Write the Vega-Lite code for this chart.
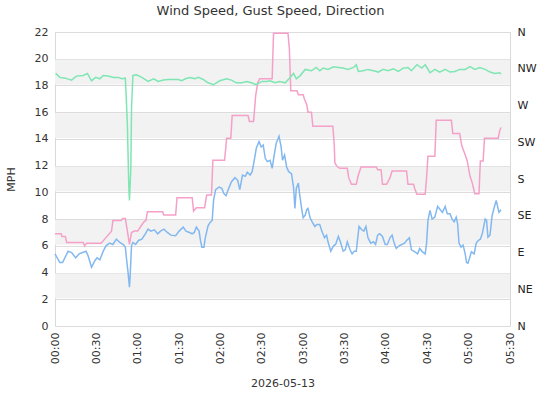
{
"$schema": "https://vega.github.io/schema/vega-lite/v6.json",
"width": 455,
"height": 294,
"padding": {"left": 5, "top": 5, "right": 3, "bottom": 5},
"background": "white",
"title": {"text": "Wind Speed, Gust Speed, Direction", "font": "DejaVu Sans", "fontSize": 13, "fontWeight": "normal", "color": "#333333", "offset": 8, "frame": "bounds"},
"config": {
  "view": {"stroke": "#d9d9d9"},
  "font": "DejaVu Sans",
  "axis": {"labelFont": "DejaVu Sans", "titleFont": "DejaVu Sans", "labelFontSize": 11, "titleFontSize": 11, "titleFontWeight": "normal", "labelColor": "#333333", "titleColor": "#333333", "ticks": false, "domain": false, "labelOverlap": false},
  "axisQuantitative": {"labelOverlap": false},
  "axisY": {"labelOverlap": false},
  "axisLeft": {"labelPadding": 7, "titlePadding": 18, "grid": true, "gridColor": "#dcdcdc", "labelOverlap": false}
},
"datasets": {
  "bands": [{"lo": 2, "hi": 4}, {"lo": 6, "hi": 8}, {"lo": 10, "hi": 12}, {"lo": 14, "hi": 16}, {"lo": 18, "hi": 20}],
  "wind": [
{"time":"2026-05-13T00:00:00","mph":5.4},{"time":"2026-05-13T00:03:30","mph":4.75},{"time":"2026-05-13T00:05:30","mph":4.75},{"time":"2026-05-13T00:09:30","mph":5.6},{"time":"2026-05-13T00:12:00","mph":5.5},{"time":"2026-05-13T00:15:00","mph":5.1},{"time":"2026-05-13T00:17:30","mph":5.4},{"time":"2026-05-13T00:20:00","mph":5.5},{"time":"2026-05-13T00:22:30","mph":5.6},{"time":"2026-05-13T00:24:00","mph":5.25},{"time":"2026-05-13T00:26:30","mph":4.4},{"time":"2026-05-13T00:29:00","mph":4.9},{"time":"2026-05-13T00:30:30","mph":5.1},{"time":"2026-05-13T00:32:30","mph":4.95},{"time":"2026-05-13T00:35:00","mph":5.6},{"time":"2026-05-13T00:37:00","mph":6.0},{"time":"2026-05-13T00:39:30","mph":6.2},{"time":"2026-05-13T00:42:00","mph":6.1},{"time":"2026-05-13T00:44:30","mph":6.5},{"time":"2026-05-13T00:47:00","mph":6.25},{"time":"2026-05-13T00:49:30","mph":6.1},{"time":"2026-05-13T00:51:00","mph":5.9},{"time":"2026-05-13T00:52:00","mph":4.9},{"time":"2026-05-13T00:53:00","mph":4.0},{"time":"2026-05-13T00:54:00","mph":2.9},{"time":"2026-05-13T00:54:30","mph":3.75},{"time":"2026-05-13T00:55:30","mph":6.0},{"time":"2026-05-13T00:56:30","mph":6.25},{"time":"2026-05-13T00:58:30","mph":6.1},{"time":"2026-05-13T01:00:30","mph":6.4},{"time":"2026-05-13T01:03:00","mph":6.5},{"time":"2026-05-13T01:05:30","mph":6.9},{"time":"2026-05-13T01:07:30","mph":7.25},{"time":"2026-05-13T01:09:30","mph":7.1},{"time":"2026-05-13T01:12:00","mph":7.2},{"time":"2026-05-13T01:14:30","mph":6.9},{"time":"2026-05-13T01:16:30","mph":7.1},{"time":"2026-05-13T01:19:00","mph":7.25},{"time":"2026-05-13T01:21:30","mph":7.0},{"time":"2026-05-13T01:24:00","mph":6.8},{"time":"2026-05-13T01:27:30","mph":6.75},{"time":"2026-05-13T01:30:00","mph":7.1},{"time":"2026-05-13T01:33:00","mph":7.4},{"time":"2026-05-13T01:35:00","mph":7.1},{"time":"2026-05-13T01:37:30","mph":7.0},{"time":"2026-05-13T01:39:30","mph":6.9},{"time":"2026-05-13T01:41:00","mph":7.0},{"time":"2026-05-13T01:42:30","mph":7.4},{"time":"2026-05-13T01:44:30","mph":7.1},{"time":"2026-05-13T01:45:30","mph":6.4},{"time":"2026-05-13T01:46:30","mph":5.9},{"time":"2026-05-13T01:48:00","mph":5.9},{"time":"2026-05-13T01:49:00","mph":6.6},{"time":"2026-05-13T01:51:00","mph":7.5},{"time":"2026-05-13T01:52:30","mph":7.75},{"time":"2026-05-13T01:54:00","mph":7.9},{"time":"2026-05-13T01:55:00","mph":9.4},{"time":"2026-05-13T01:56:30","mph":10.2},{"time":"2026-05-13T01:59:00","mph":10.4},{"time":"2026-05-13T02:01:00","mph":10.3},{"time":"2026-05-13T02:02:30","mph":9.9},{"time":"2026-05-13T02:04:00","mph":9.75},{"time":"2026-05-13T02:06:00","mph":10.3},{"time":"2026-05-13T02:08:00","mph":10.8},{"time":"2026-05-13T02:10:30","mph":11.1},{"time":"2026-05-13T02:12:30","mph":10.9},{"time":"2026-05-13T02:14:00","mph":10.2},{"time":"2026-05-13T02:16:00","mph":11.3},{"time":"2026-05-13T02:18:00","mph":11.2},{"time":"2026-05-13T02:19:30","mph":11.5},{"time":"2026-05-13T02:21:30","mph":11.3},{"time":"2026-05-13T02:23:00","mph":11.55},{"time":"2026-05-13T02:24:30","mph":12.4},{"time":"2026-05-13T02:26:00","mph":13.3},{"time":"2026-05-13T02:28:00","mph":13.8},{"time":"2026-05-13T02:29:30","mph":13.4},{"time":"2026-05-13T02:31:00","mph":13.55},{"time":"2026-05-13T02:32:30","mph":12.55},{"time":"2026-05-13T02:34:00","mph":12.3},{"time":"2026-05-13T02:36:00","mph":12.4},{"time":"2026-05-13T02:37:30","mph":11.8},{"time":"2026-05-13T02:39:00","mph":12.8},{"time":"2026-05-13T02:40:30","mph":13.7},{"time":"2026-05-13T02:42:30","mph":14.2},{"time":"2026-05-13T02:44:00","mph":13.4},{"time":"2026-05-13T02:45:00","mph":12.4},{"time":"2026-05-13T02:46:30","mph":12.8},{"time":"2026-05-13T02:48:00","mph":11.9},{"time":"2026-05-13T02:49:30","mph":11.55},{"time":"2026-05-13T02:51:30","mph":11.4},{"time":"2026-05-13T02:53:00","mph":10.4},{"time":"2026-05-13T02:54:00","mph":8.8},{"time":"2026-05-13T02:55:00","mph":10.3},{"time":"2026-05-13T02:56:30","mph":10.7},{"time":"2026-05-13T02:57:30","mph":9.8},{"time":"2026-05-13T02:59:00","mph":8.7},{"time":"2026-05-13T03:00:00","mph":8.1},{"time":"2026-05-13T03:01:30","mph":8.3},{"time":"2026-05-13T03:02:30","mph":8.7},{"time":"2026-05-13T03:03:30","mph":8.8},{"time":"2026-05-13T03:05:00","mph":8.1},{"time":"2026-05-13T03:06:30","mph":7.8},{"time":"2026-05-13T03:08:30","mph":7.45},{"time":"2026-05-13T03:10:00","mph":7.6},{"time":"2026-05-13T03:12:00","mph":7.6},{"time":"2026-05-13T03:13:30","mph":7.1},{"time":"2026-05-13T03:15:30","mph":6.6},{"time":"2026-05-13T03:17:00","mph":6.8},{"time":"2026-05-13T03:18:00","mph":6.3},{"time":"2026-05-13T03:20:00","mph":5.6},{"time":"2026-05-13T03:22:00","mph":6.0},{"time":"2026-05-13T03:23:30","mph":6.1},{"time":"2026-05-13T03:25:30","mph":6.7},{"time":"2026-05-13T03:27:00","mph":6.3},{"time":"2026-05-13T03:29:00","mph":5.6},{"time":"2026-05-13T03:30:30","mph":5.7},{"time":"2026-05-13T03:32:00","mph":6.3},{"time":"2026-05-13T03:34:00","mph":5.7},{"time":"2026-05-13T03:35:30","mph":5.4},{"time":"2026-05-13T03:37:00","mph":5.6},{"time":"2026-05-13T03:38:30","mph":5.6},{"time":"2026-05-13T03:40:30","mph":7.45},{"time":"2026-05-13T03:42:30","mph":7.2},{"time":"2026-05-13T03:44:00","mph":7.1},{"time":"2026-05-13T03:45:30","mph":7.45},{"time":"2026-05-13T03:47:00","mph":6.6},{"time":"2026-05-13T03:49:00","mph":6.2},{"time":"2026-05-13T03:51:00","mph":6.3},{"time":"2026-05-13T03:52:30","mph":6.1},{"time":"2026-05-13T03:54:00","mph":6.8},{"time":"2026-05-13T03:55:30","mph":6.9},{"time":"2026-05-13T03:57:30","mph":6.7},{"time":"2026-05-13T03:59:30","mph":6.1},{"time":"2026-05-13T04:01:00","mph":6.1},{"time":"2026-05-13T04:03:00","mph":6.6},{"time":"2026-05-13T04:04:30","mph":6.8},{"time":"2026-05-13T04:06:00","mph":6.2},{"time":"2026-05-13T04:07:30","mph":5.8},{"time":"2026-05-13T04:09:30","mph":6.0},{"time":"2026-05-13T04:11:30","mph":6.1},{"time":"2026-05-13T04:13:30","mph":6.2},{"time":"2026-05-13T04:15:00","mph":6.4},{"time":"2026-05-13T04:17:00","mph":6.6},{"time":"2026-05-13T04:18:30","mph":5.7},{"time":"2026-05-13T04:21:00","mph":5.55},{"time":"2026-05-13T04:23:00","mph":5.4},{"time":"2026-05-13T04:24:30","mph":5.8},{"time":"2026-05-13T04:26:30","mph":5.55},{"time":"2026-05-13T04:28:30","mph":5.4},{"time":"2026-05-13T04:29:30","mph":6.2},{"time":"2026-05-13T04:30:30","mph":7.9},{"time":"2026-05-13T04:32:00","mph":8.65},{"time":"2026-05-13T04:33:30","mph":8.0},{"time":"2026-05-13T04:35:30","mph":8.15},{"time":"2026-05-13T04:37:30","mph":8.95},{"time":"2026-05-13T04:39:00","mph":8.75},{"time":"2026-05-13T04:41:00","mph":8.5},{"time":"2026-05-13T04:43:00","mph":8.95},{"time":"2026-05-13T04:44:30","mph":8.4},{"time":"2026-05-13T04:46:30","mph":8.4},{"time":"2026-05-13T04:48:00","mph":8.0},{"time":"2026-05-13T04:49:30","mph":7.8},{"time":"2026-05-13T04:51:00","mph":8.15},{"time":"2026-05-13T04:52:00","mph":7.65},{"time":"2026-05-13T04:53:00","mph":6.2},{"time":"2026-05-13T04:54:30","mph":5.9},{"time":"2026-05-13T04:56:00","mph":6.05},{"time":"2026-05-13T04:57:30","mph":5.4},{"time":"2026-05-13T04:58:30","mph":4.75},{"time":"2026-05-13T04:59:30","mph":4.7},{"time":"2026-05-13T05:01:00","mph":5.2},{"time":"2026-05-13T05:02:00","mph":5.55},{"time":"2026-05-13T05:04:00","mph":5.4},{"time":"2026-05-13T05:05:30","mph":6.2},{"time":"2026-05-13T05:07:00","mph":6.4},{"time":"2026-05-13T05:08:30","mph":6.5},{"time":"2026-05-13T05:10:00","mph":6.95},{"time":"2026-05-13T05:12:00","mph":8.0},{"time":"2026-05-13T05:13:00","mph":7.9},{"time":"2026-05-13T05:14:00","mph":6.65},{"time":"2026-05-13T05:15:30","mph":6.8},{"time":"2026-05-13T05:17:00","mph":8.25},{"time":"2026-05-13T05:18:30","mph":8.85},{"time":"2026-05-13T05:20:00","mph":9.4},{"time":"2026-05-13T05:21:00","mph":8.95},{"time":"2026-05-13T05:22:00","mph":8.5},{"time":"2026-05-13T05:23:30","mph":8.7}
  ],
  "gust": [
{"time":"2026-05-13T00:00:00","mph":6.9},{"time":"2026-05-13T00:04:30","mph":6.9},{"time":"2026-05-13T00:05:00","mph":6.7},{"time":"2026-05-13T00:07:30","mph":6.7},{"time":"2026-05-13T00:08:30","mph":6.25},{"time":"2026-05-13T00:20:30","mph":6.25},{"time":"2026-05-13T00:21:30","mph":6.0},{"time":"2026-05-13T00:23:00","mph":6.2},{"time":"2026-05-13T00:33:30","mph":6.2},{"time":"2026-05-13T00:36:00","mph":6.5},{"time":"2026-05-13T00:38:30","mph":6.8},{"time":"2026-05-13T00:41:00","mph":7.1},{"time":"2026-05-13T00:42:00","mph":7.9},{"time":"2026-05-13T00:48:00","mph":7.9},{"time":"2026-05-13T00:49:00","mph":8.05},{"time":"2026-05-13T00:51:00","mph":8.05},{"time":"2026-05-13T00:52:30","mph":7.1},{"time":"2026-05-13T00:54:00","mph":6.1},{"time":"2026-05-13T00:55:30","mph":7.0},{"time":"2026-05-13T00:57:30","mph":7.1},{"time":"2026-05-13T01:00:00","mph":7.1},{"time":"2026-05-13T01:02:30","mph":7.5},{"time":"2026-05-13T01:04:30","mph":7.8},{"time":"2026-05-13T01:06:00","mph":7.9},{"time":"2026-05-13T01:07:00","mph":8.55},{"time":"2026-05-13T01:18:00","mph":8.55},{"time":"2026-05-13T01:19:00","mph":8.3},{"time":"2026-05-13T01:27:30","mph":8.3},{"time":"2026-05-13T01:28:30","mph":9.6},{"time":"2026-05-13T01:39:30","mph":9.6},{"time":"2026-05-13T01:40:30","mph":8.6},{"time":"2026-05-13T01:42:30","mph":8.85},{"time":"2026-05-13T01:48:30","mph":8.85},{"time":"2026-05-13T01:50:00","mph":9.8},{"time":"2026-05-13T01:53:30","mph":9.8},{"time":"2026-05-13T01:54:30","mph":12.4},{"time":"2026-05-13T02:03:00","mph":12.4},{"time":"2026-05-13T02:04:30","mph":14.05},{"time":"2026-05-13T02:07:30","mph":14.05},{"time":"2026-05-13T02:08:30","mph":15.75},{"time":"2026-05-13T02:20:00","mph":15.75},{"time":"2026-05-13T02:21:00","mph":15.3},{"time":"2026-05-13T02:24:00","mph":15.3},{"time":"2026-05-13T02:25:30","mph":17.2},{"time":"2026-05-13T02:27:00","mph":18.2},{"time":"2026-05-13T02:28:30","mph":18.5},{"time":"2026-05-13T02:37:30","mph":18.5},{"time":"2026-05-13T02:38:30","mph":21.9},{"time":"2026-05-13T02:49:00","mph":21.9},{"time":"2026-05-13T02:50:00","mph":20.7},{"time":"2026-05-13T02:51:00","mph":17.6},{"time":"2026-05-13T02:55:30","mph":17.6},{"time":"2026-05-13T02:56:30","mph":17.3},{"time":"2026-05-13T03:00:00","mph":17.3},{"time":"2026-05-13T03:01:00","mph":16.95},{"time":"2026-05-13T03:02:30","mph":16.6},{"time":"2026-05-13T03:03:30","mph":16.0},{"time":"2026-05-13T03:06:00","mph":16.0},{"time":"2026-05-13T03:07:00","mph":14.95},{"time":"2026-05-13T03:21:30","mph":14.95},{"time":"2026-05-13T03:22:30","mph":13.6},{"time":"2026-05-13T03:23:00","mph":12.2},{"time":"2026-05-13T03:24:30","mph":11.95},{"time":"2026-05-13T03:26:30","mph":11.8},{"time":"2026-05-13T03:32:00","mph":11.8},{"time":"2026-05-13T03:33:00","mph":11.1},{"time":"2026-05-13T03:35:00","mph":10.6},{"time":"2026-05-13T03:38:30","mph":10.6},{"time":"2026-05-13T03:40:00","mph":11.3},{"time":"2026-05-13T03:42:00","mph":11.9},{"time":"2026-05-13T03:53:00","mph":11.9},{"time":"2026-05-13T03:54:00","mph":11.7},{"time":"2026-05-13T03:56:30","mph":11.7},{"time":"2026-05-13T03:57:30","mph":10.6},{"time":"2026-05-13T04:00:30","mph":10.6},{"time":"2026-05-13T04:03:00","mph":11.1},{"time":"2026-05-13T04:04:30","mph":11.6},{"time":"2026-05-13T04:15:00","mph":11.6},{"time":"2026-05-13T04:16:00","mph":10.6},{"time":"2026-05-13T04:20:00","mph":10.6},{"time":"2026-05-13T04:21:00","mph":10.25},{"time":"2026-05-13T04:22:30","mph":9.85},{"time":"2026-05-13T04:28:30","mph":9.85},{"time":"2026-05-13T04:29:30","mph":11.1},{"time":"2026-05-13T04:30:30","mph":12.7},{"time":"2026-05-13T04:35:30","mph":12.7},{"time":"2026-05-13T04:36:30","mph":15.4},{"time":"2026-05-13T04:47:30","mph":15.4},{"time":"2026-05-13T04:48:30","mph":14.4},{"time":"2026-05-13T04:53:30","mph":14.4},{"time":"2026-05-13T04:55:00","mph":13.5},{"time":"2026-05-13T04:57:00","mph":12.95},{"time":"2026-05-13T04:59:00","mph":12.35},{"time":"2026-05-13T05:01:00","mph":11.2},{"time":"2026-05-13T05:02:30","mph":10.75},{"time":"2026-05-13T05:04:30","mph":9.9},{"time":"2026-05-13T05:07:30","mph":9.9},{"time":"2026-05-13T05:08:30","mph":12.35},{"time":"2026-05-13T05:10:30","mph":12.35},{"time":"2026-05-13T05:11:30","mph":14.05},{"time":"2026-05-13T05:21:30","mph":14.05},{"time":"2026-05-13T05:22:30","mph":14.6},{"time":"2026-05-13T05:23:30","mph":14.85}
  ],
  "direction": [
{"time":"2026-05-13T00:00:30","deg":309.3},{"time":"2026-05-13T00:03:30","deg":304.4},{"time":"2026-05-13T00:07:30","deg":303.5},{"time":"2026-05-13T00:12:00","deg":301.1},{"time":"2026-05-13T00:15:30","deg":306},{"time":"2026-05-13T00:20:30","deg":306.8},{"time":"2026-05-13T00:23:30","deg":309.3},{"time":"2026-05-13T00:26:30","deg":300.3},{"time":"2026-05-13T00:29:30","deg":304.4},{"time":"2026-05-13T00:32:30","deg":302.7},{"time":"2026-05-13T00:35:00","deg":306.8},{"time":"2026-05-13T00:38:30","deg":306},{"time":"2026-05-13T00:42:30","deg":304.4},{"time":"2026-05-13T00:46:00","deg":304.4},{"time":"2026-05-13T00:48:30","deg":302.7},{"time":"2026-05-13T00:51:00","deg":303.5},{"time":"2026-05-13T00:51:30","deg":286.4},{"time":"2026-05-13T00:52:30","deg":246.3},{"time":"2026-05-13T00:53:00","deg":209.5},{"time":"2026-05-13T00:53:30","deg":172.6},{"time":"2026-05-13T00:54:00","deg":153.8},{"time":"2026-05-13T00:55:00","deg":193.1},{"time":"2026-05-13T00:55:30","deg":266.7},{"time":"2026-05-13T00:56:30","deg":306.8},{"time":"2026-05-13T00:59:00","deg":307.6},{"time":"2026-05-13T01:03:00","deg":304.4},{"time":"2026-05-13T01:07:30","deg":299.5},{"time":"2026-05-13T01:11:30","deg":302.7},{"time":"2026-05-13T01:15:00","deg":299.5},{"time":"2026-05-13T01:18:30","deg":301.1},{"time":"2026-05-13T01:22:00","deg":301.9},{"time":"2026-05-13T01:26:00","deg":301.9},{"time":"2026-05-13T01:29:30","deg":301.9},{"time":"2026-05-13T01:32:00","deg":300.3},{"time":"2026-05-13T01:34:30","deg":302.7},{"time":"2026-05-13T01:38:00","deg":304.4},{"time":"2026-05-13T01:41:30","deg":302.7},{"time":"2026-05-13T01:44:00","deg":304.4},{"time":"2026-05-13T01:47:30","deg":301.9},{"time":"2026-05-13T01:51:00","deg":297.8},{"time":"2026-05-13T01:55:00","deg":295.4},{"time":"2026-05-13T01:57:00","deg":297.8},{"time":"2026-05-13T01:59:30","deg":300.3},{"time":"2026-05-13T02:04:30","deg":302.7},{"time":"2026-05-13T02:08:00","deg":301.1},{"time":"2026-05-13T02:11:30","deg":297.8},{"time":"2026-05-13T02:15:30","deg":297.8},{"time":"2026-05-13T02:19:00","deg":299.5},{"time":"2026-05-13T02:22:30","deg":297.8},{"time":"2026-05-13T02:26:00","deg":295.4},{"time":"2026-05-13T02:30:00","deg":299.5},{"time":"2026-05-13T02:33:30","deg":299.5},{"time":"2026-05-13T02:36:00","deg":300.3},{"time":"2026-05-13T02:39:30","deg":297.8},{"time":"2026-05-13T02:43:00","deg":299.5},{"time":"2026-05-13T02:47:00","deg":297.8},{"time":"2026-05-13T02:50:30","deg":304.4},{"time":"2026-05-13T02:53:00","deg":309.3},{"time":"2026-05-13T02:55:00","deg":302.7},{"time":"2026-05-13T02:57:30","deg":306},{"time":"2026-05-13T03:01:30","deg":314.2},{"time":"2026-05-13T03:06:00","deg":312.5},{"time":"2026-05-13T03:09:30","deg":316.6},{"time":"2026-05-13T03:12:00","deg":312.5},{"time":"2026-05-13T03:14:30","deg":315.8},{"time":"2026-05-13T03:18:00","deg":314.2},{"time":"2026-05-13T03:22:00","deg":317.5},{"time":"2026-05-13T03:25:30","deg":316.6},{"time":"2026-05-13T03:29:00","deg":315.8},{"time":"2026-05-13T03:32:30","deg":314.2},{"time":"2026-05-13T03:36:30","deg":316.6},{"time":"2026-05-13T03:38:30","deg":319.9},{"time":"2026-05-13T03:40:00","deg":311.7},{"time":"2026-05-13T03:43:30","deg":312.5},{"time":"2026-05-13T03:47:00","deg":314.2},{"time":"2026-05-13T03:51:00","deg":312.5},{"time":"2026-05-13T03:54:30","deg":310.9},{"time":"2026-05-13T03:58:00","deg":314.2},{"time":"2026-05-13T04:01:30","deg":312.5},{"time":"2026-05-13T04:05:30","deg":315},{"time":"2026-05-13T04:09:00","deg":311.7},{"time":"2026-05-13T04:12:30","deg":315.8},{"time":"2026-05-13T04:16:00","deg":316.6},{"time":"2026-05-13T04:18:30","deg":312.5},{"time":"2026-05-13T04:22:30","deg":319.9},{"time":"2026-05-13T04:26:00","deg":315.8},{"time":"2026-05-13T04:28:30","deg":319.9},{"time":"2026-05-13T04:32:00","deg":310.1},{"time":"2026-05-13T04:35:30","deg":314.2},{"time":"2026-05-13T04:39:00","deg":310.9},{"time":"2026-05-13T04:43:00","deg":314.2},{"time":"2026-05-13T04:46:30","deg":310.9},{"time":"2026-05-13T04:50:00","deg":311.7},{"time":"2026-05-13T04:53:30","deg":314.2},{"time":"2026-05-13T04:57:30","deg":314.2},{"time":"2026-05-13T05:01:00","deg":317.5},{"time":"2026-05-13T05:04:30","deg":314.2},{"time":"2026-05-13T05:08:00","deg":316.6},{"time":"2026-05-13T05:12:00","deg":314.2},{"time":"2026-05-13T05:15:30","deg":310.9},{"time":"2026-05-13T05:19:00","deg":309.3},{"time":"2026-05-13T05:22:30","deg":310.1},{"time":"2026-05-13T05:23:30","deg":308.5}
  ]
},
"layer": [
  {
    "encoding": {
      "y": {"type": "quantitative", "scale": {"domain": [0, 22], "nice": false, "zero": true},
        "axis": {"title": "MPH", "values": [0,2,4,6,8,10,12,14,16,18,20,22], "labelOverlap": false, "labelSeparation": 0, "labelBound": false, "zindex": 0}}
    },
    "layer": [
      {
        "data": {"name": "bands"},
        "mark": {"type": "rect", "color": "#f2f2f2", "yOffset": -1, "y2Offset": 1},
        "encoding": {
          "y": {"field": "lo"},
          "y2": {"field": "hi"}
        }
      },
      {
        "data": {"name": "gust"},
        "mark": {"type": "line", "color": "#f5a0c8", "strokeWidth": 1.5},
        "encoding": {
          "x": {"field": "time", "type": "temporal",
            "scale": {"domain": [{"year": 2026, "month": 5, "date": 13, "hours": 0, "minutes": 0}, {"year": 2026, "month": 5, "date": 13, "hours": 5, "minutes": 30}]},
            "axis": {"title": "2026-05-13", "format": "%H:%M", "values": [
              {"year": 2026, "month": 5, "date": 13, "hours": 0, "minutes": 0},
              {"year": 2026, "month": 5, "date": 13, "hours": 0, "minutes": 30},
              {"year": 2026, "month": 5, "date": 13, "hours": 1, "minutes": 0},
              {"year": 2026, "month": 5, "date": 13, "hours": 1, "minutes": 30},
              {"year": 2026, "month": 5, "date": 13, "hours": 2, "minutes": 0},
              {"year": 2026, "month": 5, "date": 13, "hours": 2, "minutes": 30},
              {"year": 2026, "month": 5, "date": 13, "hours": 3, "minutes": 0},
              {"year": 2026, "month": 5, "date": 13, "hours": 3, "minutes": 30},
              {"year": 2026, "month": 5, "date": 13, "hours": 4, "minutes": 0},
              {"year": 2026, "month": 5, "date": 13, "hours": 4, "minutes": 30},
              {"year": 2026, "month": 5, "date": 13, "hours": 5, "minutes": 0},
              {"year": 2026, "month": 5, "date": 13, "hours": 5, "minutes": 30}
            ], "labelAngle": -90, "grid": false, "labelPadding": 6, "titlePadding": 14, "labelOverlap": false}},
          "y": {"field": "mph"}
        }
      },
      {
        "data": {"name": "wind"},
        "mark": {"type": "line", "color": "#82b8f0", "strokeWidth": 1.5},
        "encoding": {
          "x": {"field": "time", "type": "temporal"},
          "y": {"field": "mph"}
        }
      }
    ]
  },
  {
    "data": {"name": "direction"},
    "mark": {"type": "line", "color": "#7ee6b2", "strokeWidth": 1.5},
    "encoding": {
      "x": {"field": "time", "type": "temporal"},
      "y": {"field": "deg", "type": "quantitative", "scale": {"domain": [0, 360], "nice": false},
        "axis": {"orient": "right", "title": null, "grid": false, "values": [0,45,90,135,180,225,270,315,360], "labelExpr": "datum.value == 45 ? 'NE' : datum.value == 90 ? 'E' : datum.value == 135 ? 'SE' : datum.value == 180 ? 'S' : datum.value == 225 ? 'SW' : datum.value == 270 ? 'W' : datum.value == 315 ? 'NW' : 'N'", "labelPadding": 7, "labelColor": "#222222"}}
    }
  }
],
"resolve": {"scale": {"y": "independent"}}
}
